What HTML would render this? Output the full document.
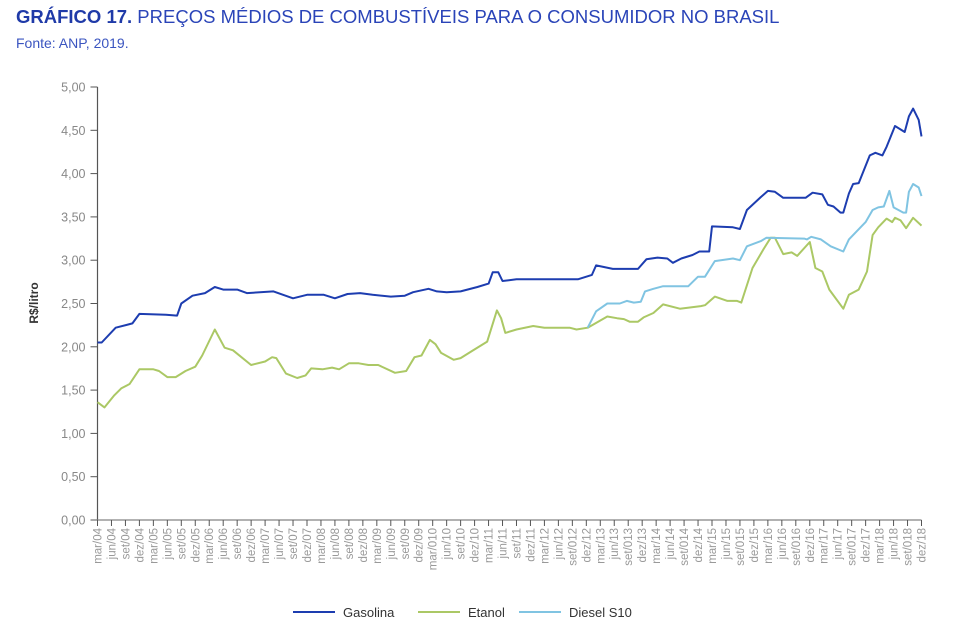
<!DOCTYPE html>
<html><head><meta charset="utf-8"><style>
body{margin:0;background:#fff;width:953px;height:628px;overflow:hidden;font-family:"Liberation Sans",sans-serif}
#title{position:absolute;left:16px;top:6px;font-size:18.5px;color:#2a44b8;white-space:nowrap}
#title b{color:#1f3aa8}
#src{position:absolute;left:16px;top:35px;font-size:14px;color:#3b55c0}
svg{position:absolute;left:0;top:0}
</style></head><body>
<div id="title"><b>GRÁFICO 17.</b> PREÇOS MÉDIOS DE COMBUSTÍVEIS PARA O CONSUMIDOR NO BRASIL</div>
<div id="src">Fonte: ANP, 2019.</div>
<svg id="chart" width="953" height="628"></svg>
<script>
const categories=["mar/04","jun/04","set/04","dez/04","mar/05","jun/05","set/05","dez/05","mar/06","jun/06","set/06","dez/06","mar/07","jun/07","set/07","dez/07","mar/08","jun/08","set/08","dez/08","mar/09","jun/09","set/09","dez/09","mar/010","jun/10","set/10","dez/10","mar/11","jun/11","set/11","dez/11","mar/12","jun/12","set/012","dez/12","mar/13","jun/13","set/013","dez/13","mar/14","jun/14","set/014","dez/14","mar/15","jun/15","set/015","dez/15","mar/16","jun/16","set/016","dez/16","mar/17","jun/17","set/017","dez/17","mar/18","jun/18","set/018","dez/18"];
const yTicks=[0,0.5,1,1.5,2,2.5,3,3.5,4,4.5,5];
const yTickLabels=["0,00","0,50","1,00","1,50","2,00","2,50","3,00","3,50","4,00","4,50","5,00"];
const gasolinaT=[0,0.3,1.3,2.5,3,4.9,5.7,6,6.8,7.7,8.4,9,10,10.7,12.6,14,15,16.2,17,17.9,18.8,19.7,21,22,22.6,23.7,24.3,25,26,27.2,28,28.3,28.7,29,30,34.4,35.4,35.7,36.9,38.7,39.3,40.1,40.8,41.2,41.8,42.6,43.1,43.8,44,45.5,46,46.5,47.5,48,48.5,49.1,50.7,51.2,51.9,52.3,52.7,53.2,53.4,53.8,54.1,54.5,55.3,55.7,56.2,56.5,57.1,57.8,58.1,58.4,58.8,59];
const gasolinaV=[2.05,2.05,2.22,2.27,2.38,2.37,2.36,2.50,2.59,2.62,2.69,2.66,2.66,2.62,2.64,2.56,2.60,2.60,2.56,2.61,2.62,2.60,2.58,2.59,2.63,2.67,2.64,2.63,2.64,2.69,2.73,2.86,2.86,2.76,2.78,2.78,2.83,2.94,2.90,2.90,3.01,3.03,3.02,2.97,3.02,3.06,3.10,3.10,3.39,3.38,3.36,3.58,3.73,3.80,3.79,3.72,3.72,3.78,3.76,3.64,3.62,3.55,3.55,3.77,3.88,3.89,4.21,4.24,4.21,4.31,4.55,4.48,4.66,4.75,4.62,4.43];
const etanolT=[0,0.5,1.2,1.7,2.3,3,4,4.4,5,5.6,6.3,7,7.5,8.4,9.1,9.7,11,12,12.5,12.8,13.5,14.3,14.9,15.3,16.1,16.8,17.3,18,18.7,19.4,20.1,21.3,22.1,22.7,23.2,23.8,24.2,24.6,25.5,26,26.8,27.9,28.6,28.9,29.2,30,31.2,32,33.8,34.3,35.1,36.5,37.2,37.7,38.1,38.7,39.1,39.8,40.5,41.7,43.2,43.5,44.2,45.1,45.8,46.1,46.9,47.7,48.2,48.5,49.1,49.7,50.1,51,51.4,51.9,52.4,53.4,53.8,54.5,55.1,55.5,55.9,56.5,56.9,57.1,57.5,57.9,58.4,59];
const etanolV=[1.36,1.30,1.44,1.52,1.57,1.74,1.74,1.72,1.65,1.65,1.72,1.77,1.90,2.20,1.99,1.96,1.79,1.83,1.88,1.87,1.69,1.64,1.67,1.75,1.74,1.76,1.74,1.81,1.81,1.79,1.79,1.70,1.72,1.88,1.90,2.08,2.03,1.93,1.85,1.87,1.95,2.06,2.42,2.33,2.16,2.20,2.24,2.22,2.22,2.20,2.22,2.35,2.33,2.32,2.29,2.29,2.34,2.39,2.49,2.44,2.47,2.48,2.58,2.53,2.53,2.51,2.91,3.13,3.26,3.26,3.07,3.09,3.05,3.21,2.91,2.87,2.66,2.44,2.60,2.66,2.87,3.29,3.38,3.48,3.44,3.49,3.46,3.37,3.49,3.40];
const dieselT=[35.1,35.7,36.5,37.4,37.9,38.4,38.9,39.2,39.8,40.5,42.3,43,43.5,44.2,45.5,46,46.5,47.5,47.9,50.6,50.8,51.1,51.8,52.5,53.4,53.8,55,55.5,55.9,56.3,56.7,57,57.7,57.9,58.1,58.4,58.8,59];
const dieselV=[2.22,2.41,2.50,2.50,2.53,2.51,2.52,2.64,2.67,2.70,2.70,2.81,2.81,2.99,3.02,3.00,3.16,3.22,3.26,3.25,3.24,3.27,3.24,3.16,3.10,3.24,3.44,3.58,3.61,3.62,3.80,3.61,3.55,3.55,3.79,3.88,3.84,3.74];

const svg=document.getElementById('chart');const NS='http://www.w3.org/2000/svg';
const X0=97.5,X1=921.5,Y0=520,Y1=87,YMAX=5;
const xq=i=>X0+(X1-X0)*i/(categories.length-1);
const yv=v=>Y0-(Y0-Y1)*v/YMAX;
function mk(t,a,p){const e=document.createElementNS(NS,t);for(const k in a)e.setAttribute(k,a[k]);(p||svg).appendChild(e);return e;}
const ax=mk('g',{});


const yl=mk('line',{x1:X0,y1:Y1,x2:X0,y2:Y0,stroke:'#555','stroke-width':1.2},ax);


const xl=mk('line',{x1:X0,y1:Y0,x2:X1,y2:Y0,stroke:'#999','stroke-width':1.5},ax);


yTicks.forEach((v,k)=>{const y=yv(v);
mk('line',{x1:X0-7,y1:y,x2:X0,y2:y,stroke:'#555','stroke-width':1},ax);
const t=mk('text',{x:X0-12,y:y+4.5,'text-anchor':'end','font-size':12.5,fill:'#888'},ax);t.textContent=yTickLabels[k];

});
categories.forEach((c,i)=>{const x=xq(i);
mk('line',{x1:x,y1:Y0,x2:x,y2:Y0+6,stroke:'#555','stroke-width':1},ax);
const t=mk('text',{x:0,y:0,'text-anchor':'end','font-size':11.5,fill:'#999',transform:`translate(${x+4},${Y0+8}) rotate(-90)`},ax);t.textContent=c;

});
const yt=mk('text',{x:0,y:0,'text-anchor':'middle','font-size':12,'font-weight':'bold',fill:'#333',transform:'translate(38,303) rotate(-90)'});yt.textContent='R$/litro';


function series(T,V,col,name){const d=T.map((t,i)=>(i?'L':'M')+xq(t).toFixed(1)+','+yv(V[i]).toFixed(1)).join('');
const p=mk('path',{d:d,fill:'none',stroke:col,'stroke-width':2,'stroke-linejoin':'round'});

}
series(etanolT,etanolV,'#abc865','line-etanol');
series(dieselT,dieselV,'#80c4e2','line-diesel-s10');
series(gasolinaT,gasolinaV,'#1d3db0','line-gasolina');
const leg=[['Gasolina','#1d3db0',293],['Etanol','#abc865',418],['Diesel S10','#80c4e2',519]];
leg.forEach(l=>{const g=mk('g',{});


mk('line',{x1:l[2],y1:612,x2:l[2]+42,y2:612,stroke:l[1],'stroke-width':2},g);
const t=mk('text',{x:l[2]+50,y:617,'font-size':13,fill:'#333'},g);t.textContent=l[0];});
</script>
</body></html>
